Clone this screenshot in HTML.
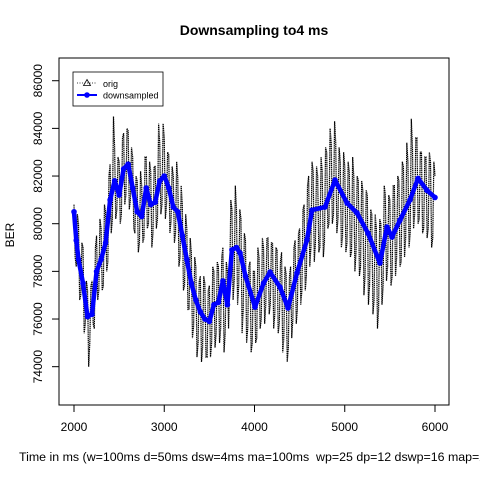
<!DOCTYPE html>
<html><head><meta charset="utf-8"><style>
body{margin:0;background:#fff;}
svg{display:block;font-family:"Liberation Sans",Arial,sans-serif;}
</style></head><body>
<svg id="chart" width="480" height="480" viewBox="0 0 480 480">
<rect width="480" height="480" fill="#fff"/>
<text x="254" y="35" text-anchor="middle" font-size="14" font-weight="bold">Downsampling to4 ms</text>
<rect x="59" y="58" width="390" height="347" fill="none" stroke="#000" stroke-width="1"/>
<g id="xaxis"></g>
<g id="yaxis"></g>
<g id="series"></g>
<text x="19" y="461" font-size="12.4" xml:space="preserve">Time in ms (w=100ms d=50ms dsw=4ms ma=100ms  wp=25 dp=12 dswp=16 map=25</text>
<text transform="translate(14,235) rotate(-90)" text-anchor="middle" font-size="12">BER</text>
<g>
<rect x="73" y="72" width="90" height="34" fill="#fff" stroke="#000" stroke-width="0.8"/>
<g>
<line x1="77" y1="83" x2="97" y2="83" stroke="#000" stroke-width="0.8" stroke-dasharray="1,1.5"/>
<path d="M87,79.5 L90.5,85.5 L83.5,85.5 Z" fill="none" stroke="#000" stroke-width="0.8"/>
<text x="103" y="87" font-size="9">orig</text></g>
<g>
<line x1="77" y1="95" x2="97" y2="95" stroke="#00f" stroke-width="2"/>
<circle cx="87" cy="95" r="2.8" fill="#00f"/>
<text x="103" y="98.5" font-size="9">downsampled</text></g>
</g>
</svg>
<script>
const xTicks=[2000,3000,4000,5000,6000];
const yTicks=[74000,76000,78000,80000,82000,84000,86000];
const blueT=[2000,2025,2050,2100,2150,2200,2250,2300,2350,2400,2450,2500,2550,2600,2650,2700,2750,2800,2850,2900,2950,3000,3050,3100,3150,3200,3250,3300,3350,3400,3450,3500,3550,3600,3650,3700,3750,3800,3840,3900,4005,4100,4172,4283,4371,4471,4582,4637,4781,4892,5025,5136,5258,5390,5468,5523,5612,5723,5812,5911,6000];
const blueV=[80500,79300,78500,77500,76100,76200,78000,78500,79200,81000,81800,81200,82300,82500,81500,80500,80300,81500,80800,80900,81800,82000,81500,80700,80500,79500,78500,77500,76800,76300,76000,75900,76600,76700,77600,76600,78900,79000,78770,77800,76500,77500,77970,77340,76460,77930,79320,80570,80700,81830,80870,80450,79600,78350,79860,79440,80150,81000,81900,81400,81100];
const origStart=2000, origStep=25;
const origV=[80800,78200,80000,77000,79000,75800,77200,75000,77600,75600,79500,77200,79800,77400,80500,78400,82500,80200,83200,80600,82600,80400,83800,81200,83900,81000,82800,79600,81800,79200,81600,79400,82800,80000,82200,79600,82400,80200,83400,80800,83600,80800,82900,80100,82000,79600,81900,78600,80800,77400,79800,76400,78800,75700,78200,75000,77800,74800,77500,74400,77400,75000,78000,75400,78200,75600,79000,75400,78000,77400,80600,77600,80600,77400,80200,76400,79300,75600,78400,75000,78000,75200,78600,76000,79000,76600,79400,76600,79200,76200,78900,75800,78800,75200,77900,74800,78200,76000,79300,76400,79800,77200,80800,77800,82000,79000,82200,79200,82000,79000,82200,79200,83000,80000,83400,80400,83400,80200,82600,79400,82400,79200,82200,78800,82000,78800,81800,78200,81400,77800,81200,77400,80400,76800,79800,76400,80000,77400,81200,78200,81000,77800,81600,78600,81800,78400,82400,79400,82600,79600,83200,80400,83600,80200,83000,79800,82800,79800,82600,79400,82000];
const origMidV=[78600,80400,76800,79200,75400,77600,74000,77400,75800,79000,76800,80200,77200,80800,78000,82000,79600,84500,80200,82800,80000,83600,80800,84000,80600,83200,79800,82000,78800,82200,79200,82800,79800,82600,79000,82400,79800,84200,80400,84200,80200,83000,79600,82400,79200,82600,78200,81600,77200,80400,76400,79400,75200,78600,74400,77600,74200,77800,74400,77200,74400,78200,74800,78400,75000,78600,74600,78400,75600,81000,76800,81600,76600,80600,75400,79600,75000,78200,74600,78000,75000,79000,75600,79400,75800,79400,76200,79200,75600,79000,75400,78400,74600,78200,74200,77800,75200,79000,75800,79600,76600,80600,77200,81600,78200,82600,78400,82400,78800,82800,78600,83200,79800,84000,80000,84300,79600,83200,79000,83000,78800,82600,78600,82800,78000,82000,77800,81800,77000,81400,76600,80600,76200,80400,75600,80200,76600,81600,77600,81200,77400,81600,77800,82000,78200,82600,78600,83400,79000,84400,79800,83600,80000,83000,79600,82800,79400,83000,79000,82600];
const NS='http://www.w3.org/2000/svg';
function xs(t){return 74+(t-2000)*0.09025;}
function ys(v){return 223.7-(v-80000)*0.02383;}
function mk(tag,attrs,parent){const e=document.createElementNS(NS,tag);for(const k in attrs)e.setAttribute(k,attrs[k]);parent.appendChild(e);return e;}
const xg=document.getElementById('xaxis'),yg=document.getElementById('yaxis'),sg=document.getElementById('series');
mk('line',{x1:xs(xTicks[0]),y1:405,x2:xs(xTicks[xTicks.length-1]),y2:405,stroke:'#000'},xg);
xTicks.forEach(t=>{
 const l=mk('line',{x1:xs(t),y1:405,x2:xs(t),y2:412,stroke:'#000'},xg);
 
 
 const tx=mk('text',{x:xs(t),y:431,'text-anchor':'middle','font-size':12},xg);
 tx.textContent=t;
 
 
});
yTicks.forEach(v=>{
 const l=mk('line',{x1:52,y1:ys(v),x2:59,y2:ys(v),stroke:'#000'},yg);
 
 
 const tx=mk('text',{transform:`translate(42,${ys(v)}) rotate(-90)`,'text-anchor':'middle','font-size':12},yg);
 tx.textContent=v;
 
 
});
const pts=[];
origV.forEach((v,i)=>{
 pts.push([origStart+i*origStep,v]);
 if(i<origMidV.length) pts.push([origStart+i*origStep+origStep/2,origMidV[i]]);
});
const op=pts.map(p=>xs(p[0]).toFixed(2)+','+ys(p[1]).toFixed(1)).join(' ');
const orig=mk('polyline',{points:op,fill:'none',stroke:'#000','stroke-width':1.2,'stroke-dasharray':'1.3,0.6'},sg);


const bp=blueV.map((v,i)=>xs(blueT[i]).toFixed(1)+','+ys(v).toFixed(1)).join(' ');
const blue=mk('polyline',{points:bp,fill:'none',stroke:'#00f','stroke-width':4.5,'stroke-linejoin':'round'},sg);


blueV.forEach((v,i)=>{
 const c=mk('circle',{cx:xs(blueT[i]),cy:ys(v),r:2.8,fill:'#00f'},sg);
 
 
});
</script>
</body></html>
